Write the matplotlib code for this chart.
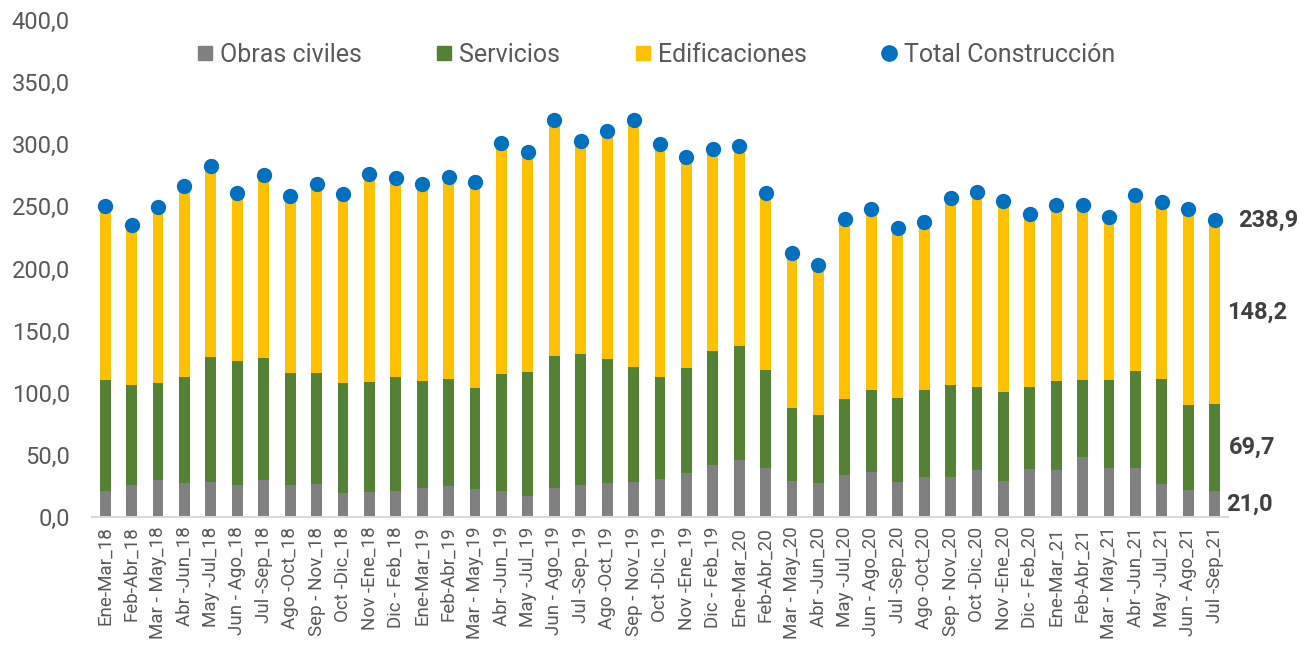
import matplotlib.pyplot as plt
from matplotlib.lines import Line2D
import numpy as np

plt.rcParams['font.family'] = ['Roboto', 'DejaVu Sans']

# periods (trimestre movil)
labels = [
    "Ene-Mar_18", "Feb-Abr_18", "Mar - May_18", "Abr -Jun_18", "May -Jul_18",
    "Jun - Ago_18", "Jul -Sep_18", "Ago -Oct_18", "Sep - Nov_18", "Oct -Dic_18",
    "Nov -Ene_18", "Dic - Feb_18",
    "Ene-Mar_19", "Feb-Abr_19", "Mar - May_19", "Abr -Jun_19", "May -Jul_19",
    "Jun - Ago_19", "Jul -Sep_19", "Ago -Oct_19", "Sep - Nov_19", "Oct -Dic_19",
    "Nov -Ene_19", "Dic - Feb_19",
    "Ene-Mar_20", "Feb-Abr_20", "Mar - May_20", "Abr -Jun_20", "May -Jul_20",
    "Jun - Ago_20", "Jul -Sep_20", "Ago -Oct_20", "Sep - Nov_20", "Oct -Dic_20",
    "Nov -Ene_20", "Dic - Feb_20",
    "Ene-Mar_21", "Feb-Abr_21", "Mar - May_21", "Abr -Jun_21", "May -Jul_21",
    "Jun - Ago_21", "Jul -Sep_21",
]

obras = [20.9, 25.8, 29.8, 27.4, 28.2, 25.5, 29.8, 25.8, 26.3, 19.1, 20.1, 20.9,
         23.1, 24.9, 22.5, 20.9, 16.9, 23.1, 25.8, 27.1, 28.2, 30.6, 35.4, 41.6,
         45.6, 39.4, 29.0, 27.4, 33.6, 36.0, 28.2, 32.2, 32.2, 37.8, 29.0, 38.4,
         37.8, 48.5, 39.7, 39.7, 26.6, 21.5, 21.0]
servicios = [89.4, 80.4, 77.8, 85.5, 100.8, 100.1, 97.9, 89.8, 89.8, 89.0, 88.3, 92.0,
             86.4, 86.4, 81.6, 94.4, 99.8, 106.5, 105.4, 99.8, 92.8, 82.3, 84.3, 92.2,
             92.3, 78.9, 59.0, 54.9, 61.1, 66.2, 67.7, 69.8, 73.8, 66.8, 71.6, 66.2,
             71.9, 62.0, 70.6, 77.8, 84.5, 68.4, 69.7]
edificaciones = [140.0, 129.1, 141.6, 153.2, 153.5, 134.9, 147.3, 142.5, 151.7, 151.9, 167.9, 159.9,
                 158.8, 162.3, 165.8, 185.5, 177.3, 189.9, 171.4, 183.5, 198.3, 187.3, 170.0, 162.1,
                 160.4, 142.2, 124.2, 120.8, 145.4, 145.4, 137.0, 135.4, 150.5, 156.7, 153.7, 139.3,
                 141.7, 140.9, 131.1, 141.4, 142.4, 158.0, 148.2]

c_obras = '#808080'
c_serv = '#548235'
c_edif = '#FFC000'
c_total = '#0070C0'

x = np.arange(len(labels))
ob = np.array(obras)
sv = np.array(servicios)
ed = np.array(edificaciones)
total = ob + sv + ed

fig = plt.figure(figsize=(12.99, 6.5), dpi=100)
ax = fig.add_axes([0.0708, 0.2046, 0.8745, 0.7646])

w = 0.41
ax.bar(x, ob, w, color=c_obras, zorder=2)
ax.bar(x, sv, w, bottom=ob, color=c_serv, zorder=2)
ax.bar(x, ed, w, bottom=ob + sv, color=c_edif, zorder=2)
ax.plot(x, total, 'o', color=c_total, ms=10, zorder=3)

ax.set_xlim(-0.5, len(labels) - 0.5)
ax.set_ylim(0, 400)
ax.set_yticks(np.arange(0, 401, 50))
ax.set_yticklabels([f"{v:.1f}".replace('.', ',') for v in np.arange(0, 401, 50)])
ax.set_xticks(x)
ax.set_xticklabels(labels, rotation=90, fontsize=13.5, color='#595959')
ax.tick_params(axis='y', length=0, pad=16, labelsize=17, labelcolor='#595959')
ax.tick_params(axis='x', length=0, pad=7)

for s in ['top', 'right', 'left']:
    ax.spines[s].set_visible(False)
ax.spines['bottom'].set_color('#d9d9d9')
ax.spines['bottom'].set_linewidth(1.5)

# labels for last period
i = len(labels) - 1
fmt = lambda v: f"{v:.1f}".replace('.', ',')
ax.text(i + 0.88, total[i], fmt(total[i]), fontsize=17, fontweight='bold',
        color='#404040', va='center', ha='left')
ax.text(i + 0.45, ob[i] + sv[i] + ed[i] / 2, fmt(ed[i]), fontsize=17, fontweight='bold',
        color='#404040', va='center', ha='left')
ax.text(i + 0.55, ob[i] + sv[i] / 2, fmt(sv[i]), fontsize=17, fontweight='bold',
        color='#404040', va='center', ha='left')
ax.text(i + 0.45, ob[i] / 2, fmt(ob[i]), fontsize=17, fontweight='bold',
        color='#404040', va='center', ha='left')

handles = [
    Line2D([], [], ls='none', marker='s', ms=10, color=c_obras),
    Line2D([], [], ls='none', marker='s', ms=10, color=c_serv),
    Line2D([], [], ls='none', marker='s', ms=10, color=c_edif),
    Line2D([], [], ls='none', marker='o', ms=11, color=c_total),
]
leg = ax.legend(handles, ["Obras civiles", "Servicios", "Edificaciones", "Total Construcción"],
                ncol=4, loc='center', bbox_to_anchor=(0.497, 0.93), frameon=False,
                fontsize=18, handlelength=0.6, handletextpad=0.3, columnspacing=3.0,
                labelcolor='#595959')

fig.savefig('out.png', dpi=100)
